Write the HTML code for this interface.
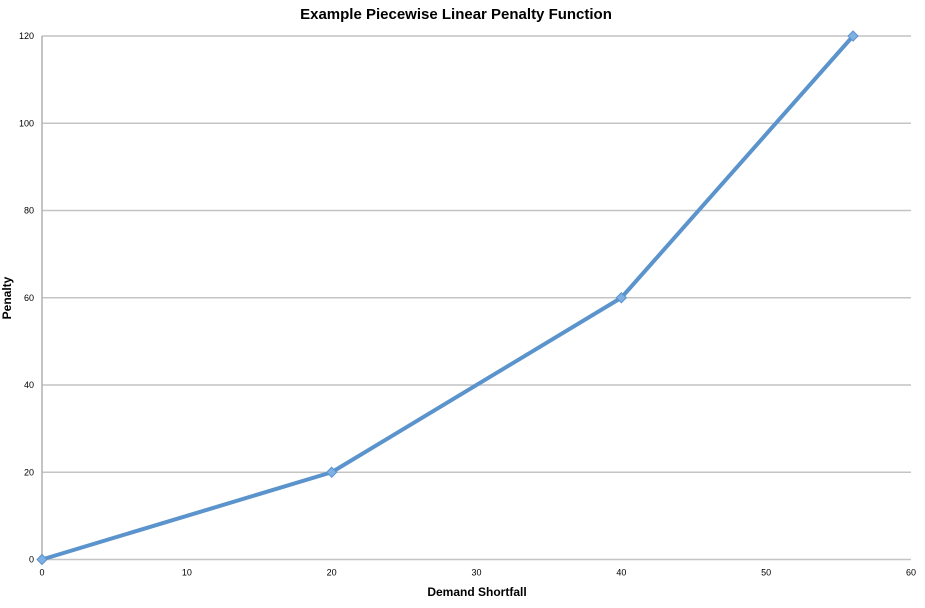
<!DOCTYPE html>
<html><head><meta charset="utf-8"><style>
html,body{margin:0;padding:0;background:#fff;}
svg{display:block;font-family:"Liberation Sans",sans-serif;}
</style></head><body>
<svg id="chart" width="925" height="608">
<text x="456" y="19" text-anchor="middle" font-size="15" font-weight="bold">Example Piecewise Linear Penalty Function</text>
<text x="477" y="596" text-anchor="middle" font-size="12" font-weight="bold">Demand Shortfall</text>
<text transform="translate(11,298) rotate(-90)" text-anchor="middle" font-size="12" font-weight="bold">Penalty</text>
<g id="grid"></g><g id="marks"></g>
</svg>
<script>
const xValues=[0,20,40,56];
const yValues=[0,20,60,120];
const xTicks=[0,10,20,30,40,50,60];
const yTicks=[0,20,40,60,80,100,120];
const ns="http://www.w3.org/2000/svg";
const X0=42,X1=911,Y0=559.5,Y1=36;
const sx=v=>X0+(v-0)/(60-0)*(X1-X0);
const sy=v=>Y0-(v-0)/(120-0)*(Y0-Y1);
const grid=document.getElementById('grid'),marks=document.getElementById('marks');
function mk(t,a,p){const e=document.createElementNS(ns,t);for(const k in a)e.setAttribute(k,a[k]);p.appendChild(e);return e;}
yTicks.forEach(v=>{
 const l=mk('line',{x1:X0,x2:X1,y1:sy(v),y2:sy(v),stroke:'#c4c4c4','stroke-width':1.5},grid);
 
 
 const t=mk('text',{x:X0-8,y:sy(v)+3,'text-anchor':'end','font-size':9},grid);t.textContent=v;
 
 
});
xTicks.forEach(v=>{
 const t=mk('text',{x:sx(v),y:Y0+16,'text-anchor':'middle','font-size':9},grid);t.textContent=v;
 
 
});
const ax=mk('line',{x1:X0,x2:X0,y1:Y1,y2:Y0,stroke:'#b0b0b0','stroke-width':1.5},grid);


const pl=mk('polyline',{points:xValues.map((x,i)=>sx(x)+','+sy(yValues[i])).join(' '),fill:'none',stroke:'#5b93cc','stroke-width':4,'stroke-linejoin':'round'},marks);


xValues.forEach((x,i)=>{
 const cx=sx(x),cy=sy(yValues[i]);
 const p=mk('polygon',{points:`${cx},${cy-5} ${cx+5},${cy} ${cx},${cy+5} ${cx-5},${cy}`,fill:'#7fb0e3',stroke:'#5b93cc','stroke-width':1},marks);
 
 
});
</script>
</body></html>
